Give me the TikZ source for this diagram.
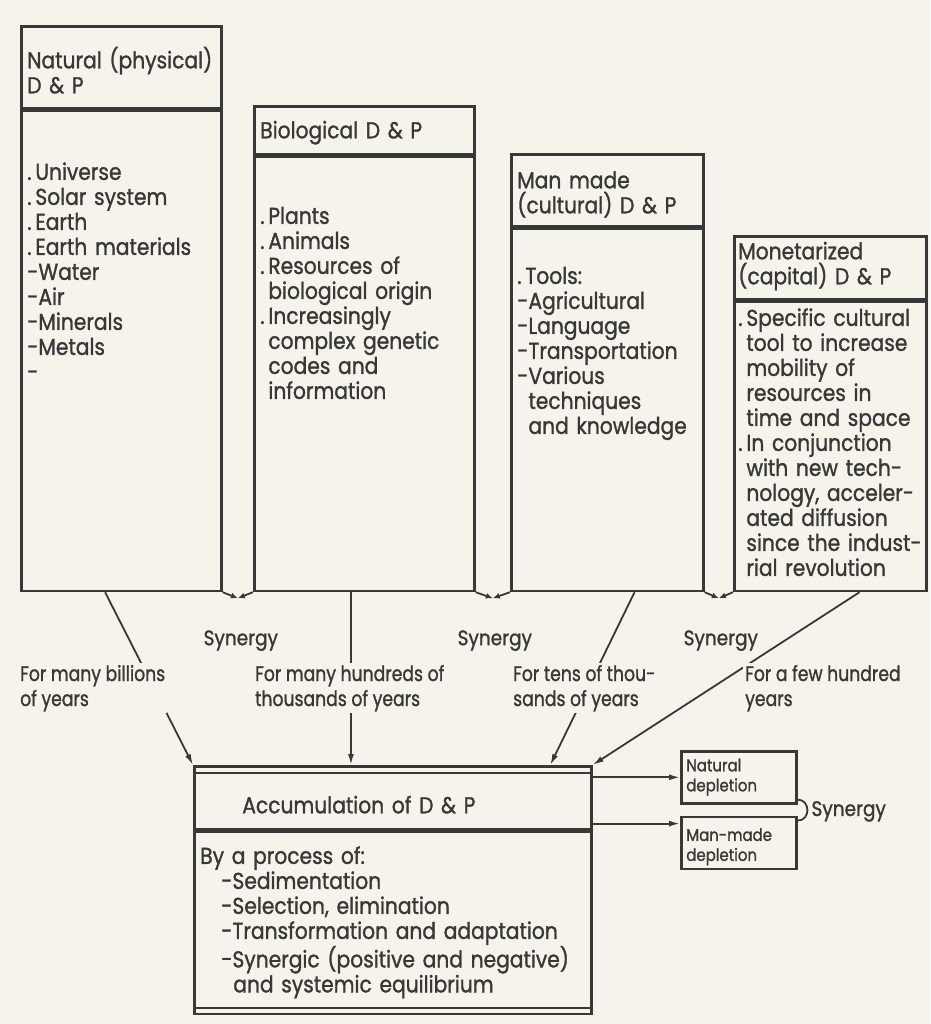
\documentclass[tikz,border=0pt]{standalone}
\usepackage{fontspec}
\setmainfont{Poppins}[FakeStretch=0.88, FakeBold=1.2]
\newfontfamily\lblfont{Poppins}[FakeStretch=0.82, FakeBold=1.2]
\usepackage{xcolor}
\usetikzlibrary{arrows.meta,calc,positioning}
\definecolor{paper}{HTML}{F6F4EA}
\definecolor{ink}{HTML}{383838}

\begin{document}
\begin{tikzpicture}[
  x=1pt, y=-1pt,
  box/.style={draw=ink, line width=2.6pt, anchor=north west, align=left, inner xsep=6pt, inner ysep=0pt, text=ink},
  deplbox/.style={box, inner xsep=5pt, font=\fontsize{17pt}{20pt}\selectfont},
  link/.style={draw=ink, line width=1.8pt},
  arrow/.style={link, -{Latex[length=11pt,width=6pt]}},
  meet/.style={link, -{Latex[length=7pt,width=6pt]}},
  timetext/.style={fill=paper, align=left, inner sep=2pt, text=ink, font=\lblfont\fontsize{21pt}{25pt}\selectfont},
  syntext/.style={text=ink, font=\fontsize{21pt}{25pt}\selectfont},
  font=\fontsize{23pt}{25pt}\selectfont,
]
\fill[paper] (0,0) rectangle (930,1024);

% four kinds of D & P
\node[box, text width=188pt, text height=42pt, text depth=40pt] (nat) at (20,25) {Natural (physical)\\D \& P};
\node[box, text width=188pt, text height=69pt, text depth=411pt] (natb) at (nat.south west)
  {.\,Universe\\.\,Solar system\\.\,Earth\\.\,Earth materials\\-Water\\-Air\\-Minerals\\-Metals\\-};

\node[box, text width=208pt, text height=32pt, text depth=16pt] (bio) at (253,105) {Biological D \& P};
\node[box, text width=208pt, text height=67pt, text depth=367pt] (biob) at (bio.south west)
  {.\,Plants\\.\,Animals\\.\,Resources of\\\hphantom{.\,}biological origin\\.\,Increasingly\\\hphantom{.\,}complex genetic\\\hphantom{.\,}codes and\\\hphantom{.\,}information};

\node[box, text width=180pt, text height=34pt, text depth=38pt] (man) at (510,153) {Man made\\(cultural) D \& P};
\node[box, text width=180pt, text height=55pt, text depth=307pt] (manb) at (man.south west)
  {.\,Tools:\\-Agricultural\\-Language\\-Transportation\\-Various\\\hphantom{-}techniques\\\hphantom{-}and knowledge};

\node[box, inner xsep=4pt, text width=184pt, text height=23pt, text depth=40pt] (mon) at (733,235) {Monetarized\\(capital) D \& P};
\node[box, inner xsep=4pt, text width=184pt, text height=24pt, text depth=265pt] (monb) at (mon.south west)
  {.\,Specific cultural\\\hphantom{.\,}tool to increase\\\hphantom{.\,}mobility of\\\hphantom{.\,}resources in\\\hphantom{.\,}time and space\\.\,In conjunction\\\hphantom{.\,}with new tech-\\\hphantom{.\,}nology, acceler-\\\hphantom{.\,}ated diffusion\\\hphantom{.\,}since the indust-\\\hphantom{.\,}rial revolution};

% accumulation
\node[box, text width=385pt, text height=47pt, text depth=16pt] (acc) at (193,765) {\hspace*{42pt}Accumulation of D \& P};
\node[box, text width=385pt, text height=32pt, text depth=150pt] (accb) at (acc.south west)
  {By a process of:\\\hspace*{21pt}-Sedimentation\\\hspace*{21pt}-Selection, elimination\\\hspace*{21pt}-Transformation and adaptation\\\hspace*{21pt}-Synergic (positive and negative)\\\hspace*{33pt}and systemic equilibrium};
\draw[ink, line width=1.8pt] ($(acc.north west)+(0pt,-8pt)$) -- ($(acc.north east)+(0pt,-8pt)$);
\draw[ink, line width=1.8pt] ($(accb.south west)+(0pt,7pt)$) -- ($(accb.south east)+(0pt,7pt)$);

% depletion
\node[deplbox, text width=105pt, text height=20pt, text depth=32pt] (natdep) at (680,750) {Natural\\depletion};
\node[deplbox, text width=105pt, text height=24pt, text depth=28pt, below=11pt of natdep] (mandep) {Man-made\\depletion};
\draw[link] ($(natdep.south east)+(0pt,5pt)$) to[out=0, in=0, looseness=1.6] ($(mandep.north east)+(0pt,-5pt)$);
\node[syntext, anchor=base west] (syn4) at (808,816) {Synergy};

\draw[arrow] (acc.east |- natdep.west) -- (natdep.west);
\coordinate (mdin) at ($(mandep.north west)+(0pt,-8pt)$);
\draw[arrow] (acc.east |- mdin) -- (mdin);

% synergy between neighbours
\coordinate (g1) at ($(natb.south east)!0.5!(biob.south west)+(0pt,-6pt)$);
\coordinate (g2) at ($(biob.south east)!0.5!(manb.south west)+(0pt,-6pt)$);
\coordinate (g3) at ($(manb.south east)!0.5!(monb.south west)+(0pt,-6pt)$);
\draw[meet] (natb.south east) -- (g1);
\draw[meet] (biob.south west) -- (g1);
\draw[meet] (biob.south east) -- (g2);
\draw[meet] (manb.south west) -- (g2);
\draw[meet] (manb.south east) -- (g3);
\draw[meet] (monb.south west) -- (g3);
\node[syntext, anchor=base] (syn1) at ($(g1)+(3pt,-47pt)$) {Synergy};
\node[syntext, anchor=base] (syn2) at ($(g2)+(2pt,-47pt)$) {Synergy};
\node[syntext, anchor=base] (syn3) at ($(g3)+(2pt,-47pt)$) {Synergy};

% time lines into the accumulation box
\coordinate (s1) at ($(natb.south west)!0.42!(natb.south east)$);
\coordinate (s2) at ($(biob.south west)!0.44!(biob.south east)$);
\coordinate (s3) at ($(manb.south west)!0.64!(manb.south east)$);
\coordinate (s4) at ($(monb.south west)!0.65!(monb.south east)$);
\draw[arrow] (s1) -- (acc.north west);
\draw[arrow] (s2) -- (s2 |- acc.north);
\draw[arrow] (s3) -- ($(acc.north west)!0.894!(acc.north east)$);
\draw[arrow] (s4) -- (acc.north east);

\node[timetext, anchor=base west] (t1) at (18,706) {For many billions\\of years};
\node[timetext, anchor=base west] (t2) at (253,706) {For many hundreds of\\thousands of years};
\node[timetext, anchor=base west] (t3) at (511,706) {For tens of thou-\\sands of years};
\node[timetext, anchor=base west] (t4) at (743,706) {For a few hundred\\years};
\end{tikzpicture}
\end{document}
